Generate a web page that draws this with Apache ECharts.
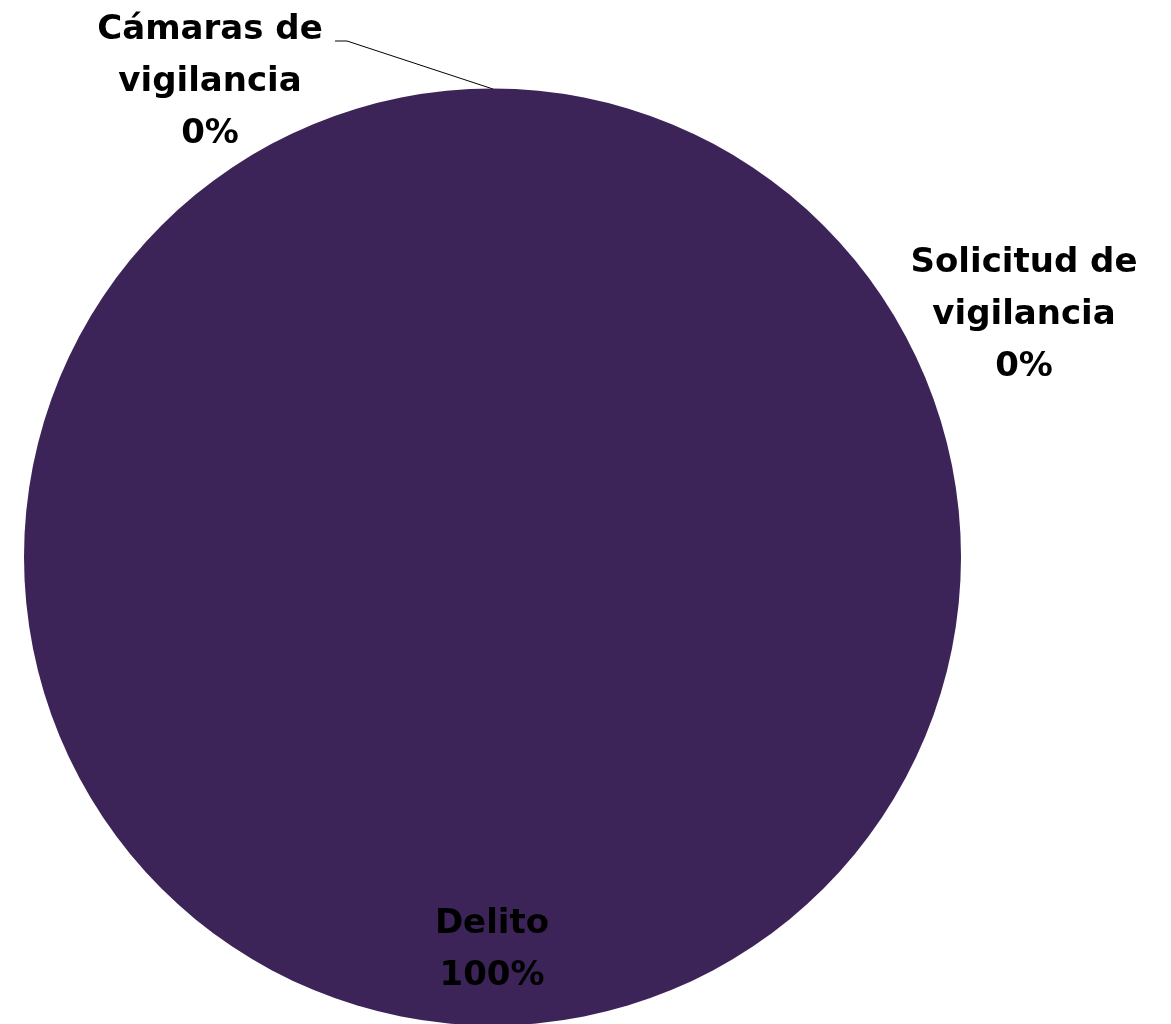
<!DOCTYPE html>
<html>
<head>
<meta charset="utf-8">
<script src="https://cdn.jsdelivr.net/npm/echarts@6/dist/echarts.min.js"></script>
<style>
html,body{margin:0;padding:0;background:#fff;}
#chart{width:1171px;height:1024px;}
</style>
</head>
<body>
<div id="chart"></div>
<script>
const categories = ['Cámaras de vigilancia', 'Solicitud de vigilancia', 'Delito'];
const values = [0, 0, 100];

const labelPos = {
  0: {x: 210, y: 82, line: [[493, 89], [347, 41], [335, 41]]},
  1: {x: 1024, y: 315},
  2: {x: 492, y: 950}
};

const chart = echarts.init(document.getElementById('chart'), null, {renderer: 'canvas'});
const total = values.reduce((a, b) => a + b, 0);
chart.setOption({
  animation: false,
  backgroundColor: '#ffffff',
  series: [{
    type: 'pie',
    center: [492.5, 557],
    radius: 468.5,
    startAngle: 90,
    clockwise: true,
    avoidLabelOverlap: false,
    silent: true,
    itemStyle: {color: '#3c2358', borderWidth: 0},
    data: categories.map((c, i) => ({
      name: c,
      value: values[i],
      labelLine: {show: i === 0}
    })),
    label: {
      show: true,
      position: 'outside',
      color: '#000',
      fontFamily: 'DejaVu Sans',
      fontWeight: 'bold',
      fontSize: 34,
      lineHeight: 52,
      align: 'center',
      formatter: p => p.name.replace(' de ', ' de\n') + '\n' + (total ? Math.round(p.value / total * 100) : 0) + '%'
    },
    labelLine: {show: true, lineStyle: {color: '#000', width: 1}},
    labelLayout: function (params) {
      const lp = labelPos[params.dataIndex];
      const r = {x: lp.x, y: lp.y, align: 'center', verticalAlign: 'middle'};
      if (lp.line) r.labelLinePoints = lp.line;
      return r;
    }
  }]
});
</script>
</body>
</html>
